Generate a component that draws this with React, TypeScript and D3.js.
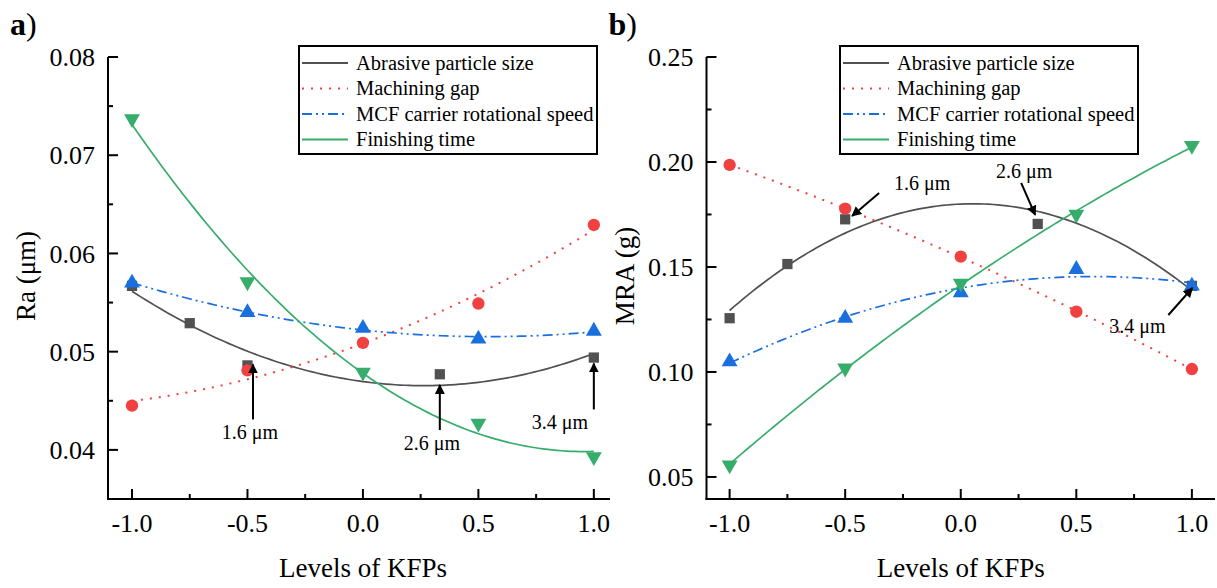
import React from "react";
import * as d3 from "d3";

// levels of the KFPs (coded), abrasive size has its own levels
const kfpLevels = [-1, -0.5, 0, 0.5, 1];
const sizeLevels = [-1, -0.75, -0.5, 0.333, 1];

const seriesNames = [
  "Abrasive particle size",
  "Machining gap",
  "MCF carrier rotational speed",
  "Finishing time",
];

// a) surface roughness Ra (um)
const raSize = [0.0567, 0.0529, 0.0486, 0.0477, 0.0494];
const raGap = [0.0445, 0.0481, 0.0509, 0.0549, 0.0629];
const raSpeed = [0.057, 0.054, 0.0524, 0.0513, 0.0521];
const raTime = [0.0737, 0.0571, 0.0479, 0.0427, 0.0393];

// b) material removal MRA (g)
const mraSize = [0.1256, 0.1514, 0.1727, 0.1705, 0.141];
const mraGap = [0.1986, 0.1778, 0.1549, 0.1287, 0.1014];
const mraSpeed = [0.1049, 0.1256, 0.1378, 0.1489, 0.141];
const mraTime = [0.0557, 0.1018, 0.1422, 0.1751, 0.2078];

const xTicks = [-1, -0.5, 0, 0.5, 1];
const raTicks = [0.04, 0.05, 0.06, 0.07, 0.08];
const mraTicks = [0.05, 0.1, 0.15, 0.2, 0.25];

// arrow annotations: tip in data coords, tail / text as pixel offsets from tip
const raNotes = [
  { label: "1.6 μm", x: -0.476, y: 0.0487, tail: [0, 55], text: [-3, 75] },
  { label: "2.6 μm", x: 0.333, y: 0.0466, tail: [0, 45], text: [-8, 65] },
  { label: "3.4 μm", x: 1.0, y: 0.0488, tail: [0, 46], text: [-34, 66] },
];
const mraNotes = [
  { label: "1.6 μm", x: -0.47, y: 0.1743, tail: [27, -23], text: [70, -26] },
  { label: "2.6 μm", x: 0.322, y: 0.1748, tail: [-14, -32], text: [-11, -37] },
  { label: "3.4 μm", x: 1.002, y: 0.14, tail: [-24, 27], text: [-55, 45] },
];

const colors = ["#515151", "#F14040", "#1A6FDF", "#37AD6B"];
const dashes = ["none", "2 7", "10 4 2 4 2 4", "none"];
const FONT = "'Liberation Serif', 'Times New Roman', serif";

// least squares quadratic fit
function fitQuad(xs: number[], ys: number[]) {
  const S = [0, 0, 0, 0, 0];
  const T = [0, 0, 0];
  xs.forEach((x, i) => {
    for (let p = 0; p < 5; p++) S[p] += Math.pow(x, p);
    for (let p = 0; p < 3; p++) T[p] += Math.pow(x, p) * ys[i];
  });
  const M = [
    [S[0], S[1], S[2], T[0]],
    [S[1], S[2], S[3], T[1]],
    [S[2], S[3], S[4], T[2]],
  ];
  for (let i = 0; i < 3; i++) {
    for (let j = i + 1; j < 3; j++) {
      const f = M[j][i] / M[i][i];
      for (let k = i; k < 4; k++) M[j][k] -= f * M[i][k];
    }
  }
  const c = [0, 0, 0];
  for (let i = 2; i >= 0; i--) {
    let s = M[i][3];
    for (let k = i + 1; k < 3; k++) s -= M[i][k] * c[k];
    c[i] = s / M[i][i];
  }
  return (x: number) => c[0] + c[1] * x + c[2] * x * x;
}

const symbols = [d3.symbolSquare, d3.symbolCircle, d3.symbolTriangle, d3.symbolTriangle];
const symSizes = [105, 120, 110, 110];

type PanelProps = {
  tag: string;
  title: string;
  values: number[][];
  yTicks: number[];
  xDomain: [number, number];
  xRange: [number, number];
  yDomain: [number, number];
  notes: typeof raNotes;
  titleX: number;
  legendX: number;
};

function Panel(p: PanelProps) {
  const x = d3.scaleLinear().domain(p.xDomain).range(p.xRange);
  const y = d3.scaleLinear().domain(p.yDomain).range([499, 57]);
  const x0 = p.xRange[0];
  const yBottom = 499;
  const fmtX = (v: number) => d3.format(".1f")(v).replace("−", "-");
  const fmtY = d3.format(".2f");
  const xMinor = d3.pairs(xTicks).map(([a, b]) => (a + b) / 2);
  const yMinor = d3.pairs(p.yTicks).map(([a, b]) => (a + b) / 2);
  const grid = d3.range(-1, 1.0001, 0.02);
  const lx = p.legendX;

  return (
    <g>
      <text x={x0 - 98} y={35} fontSize={32} fontFamily={FONT}>
        <tspan fontWeight="bold">{p.tag}</tspan>)
      </text>

      {/* fitted curves */}
      {p.values.map((vals, i) => {
        const xs = i === 0 ? sizeLevels : kfpLevels;
        const f = fitQuad(xs, vals);
        const path = d3
          .line<number>()
          .x((d) => x(d))
          .y((d) => y(f(d)))(grid);
        return (
          <path
            key={"c" + i}
            d={path || ""}
            fill="none"
            stroke={colors[i]}
            strokeWidth={i === 1 ? 2 : 1.7}
            strokeDasharray={dashes[i]}
          />
        );
      })}

      {/* markers */}
      {p.values.map((vals, i) => {
        const xs = i === 0 ? sizeLevels : kfpLevels;
        const sym = d3.symbol().type(symbols[i]).size(symSizes[i])();
        return vals.map((v, j) => (
          <path
            key={"m" + i + "-" + j}
            d={sym || ""}
            fill={colors[i]}
            transform={`translate(${x(xs[j])},${y(v)})${i === 3 ? " rotate(180)" : ""}`}
          />
        ));
      })}

      {/* annotations */}
      {p.notes.map((n, i) => {
        const tx = x(n.x);
        const ty = y(n.y);
        return (
          <g key={"n" + i}>
            <line
              x1={tx + n.tail[0]}
              y1={ty + n.tail[1]}
              x2={tx}
              y2={ty}
              stroke="#000"
              strokeWidth={2}
              markerEnd="url(#arrowHead)"
            />
            <text
              x={tx + n.text[0]}
              y={ty + n.text[1]}
              textAnchor="middle"
              fontSize={20}
              fontFamily={FONT}
            >
              {n.label}
            </text>
          </g>
        );
      })}

      {/* axes */}
      <line x1={x0} y1={57} x2={x0} y2={yBottom + 1} stroke="#000" strokeWidth={2} />
      <line x1={x0 - 1} y1={yBottom} x2={p.xRange[1]} y2={yBottom} stroke="#000" strokeWidth={2} />
      {p.yTicks.map((t) => (
        <g key={"yt" + t}>
          <line x1={x0} x2={x0 + 10} y1={y(t)} y2={y(t)} stroke="#000" strokeWidth={2} />
          <text
            x={x0 - 13}
            y={y(t)}
            dy="0.35em"
            textAnchor="end"
            fontSize={26}
            fontFamily={FONT}
          >
            {fmtY(t)}
          </text>
        </g>
      ))}
      {yMinor.map((t) => (
        <line key={"ym" + t} x1={x0} x2={x0 + 5} y1={y(t)} y2={y(t)} stroke="#000" strokeWidth={2} />
      ))}
      {xTicks.map((t) => (
        <g key={"xt" + t}>
          <line x1={x(t)} x2={x(t)} y1={yBottom} y2={yBottom - 10} stroke="#000" strokeWidth={2} />
          <text x={x(t)} y={532} textAnchor="middle" fontSize={26} fontFamily={FONT}>
            {fmtX(t)}
          </text>
        </g>
      ))}
      {xMinor.map((t) => (
        <line key={"xm" + t} x1={x(t)} x2={x(t)} y1={yBottom} y2={yBottom - 5} stroke="#000" strokeWidth={2} />
      ))}
      <text x={x(0)} y={577} textAnchor="middle" fontSize={27} fontFamily={FONT}>
        Levels of KFPs
      </text>
      <text
        transform={`translate(${p.titleX},276) rotate(-90)`}
        textAnchor="middle"
        fontSize={27}
        fontFamily={FONT}
      >
        {p.title}
      </text>

      {/* legend */}
      <rect x={lx} y={46} width={298} height={108} fill="#fff" stroke="#000" strokeWidth={2} />
      {seriesNames.map((s, i) => {
        const ry = 63 + i * 25.5;
        return (
          <g key={"l" + i}>
            <line
              x1={lx + 3}
              x2={lx + 49}
              y1={ry}
              y2={ry}
              stroke={colors[i]}
              strokeWidth={2}
              strokeDasharray={dashes[i]}
            />
            <text x={lx + 57} y={ry} dy="0.33em" fontSize={20.5} fontFamily={FONT}>
              {s}
            </text>
          </g>
        );
      })}
    </g>
  );
}

export default function App() {
  return (
    <div style={{ position: "absolute", left: 0, top: 0 }}>
      <svg width={1217} height={588} style={{ display: "block", background: "#fff" }}>
        <defs>
          <marker
            id="arrowHead"
            viewBox="0 0 10 10"
            refX={9}
            refY={5}
            markerWidth={5}
            markerHeight={5}
            orient="auto"
          >
            <path d="M0,0 L10,5 L0,10 z" fill="#000" />
          </marker>
        </defs>
        <Panel
          tag="a"
          title="Ra (μm)"
          values={[raSize, raGap, raSpeed, raTime]}
          yTicks={raTicks}
          xDomain={[-1.104, 1.07]}
          xRange={[108, 610]}
          yDomain={[0.035, 0.08]}
          notes={raNotes}
          titleX={35}
          legendX={299}
        />
        <Panel
          tag="b"
          title="MRA (g)"
          values={[mraSize, mraGap, mraSpeed, mraTime]}
          yTicks={mraTicks}
          xDomain={[-1.1, 1.1]}
          xRange={[706.5, 1215]}
          yDomain={[0.0395, 0.25]}
          notes={mraNotes}
          titleX={634}
          legendX={840}
        />
      </svg>
    </div>
  );
}
